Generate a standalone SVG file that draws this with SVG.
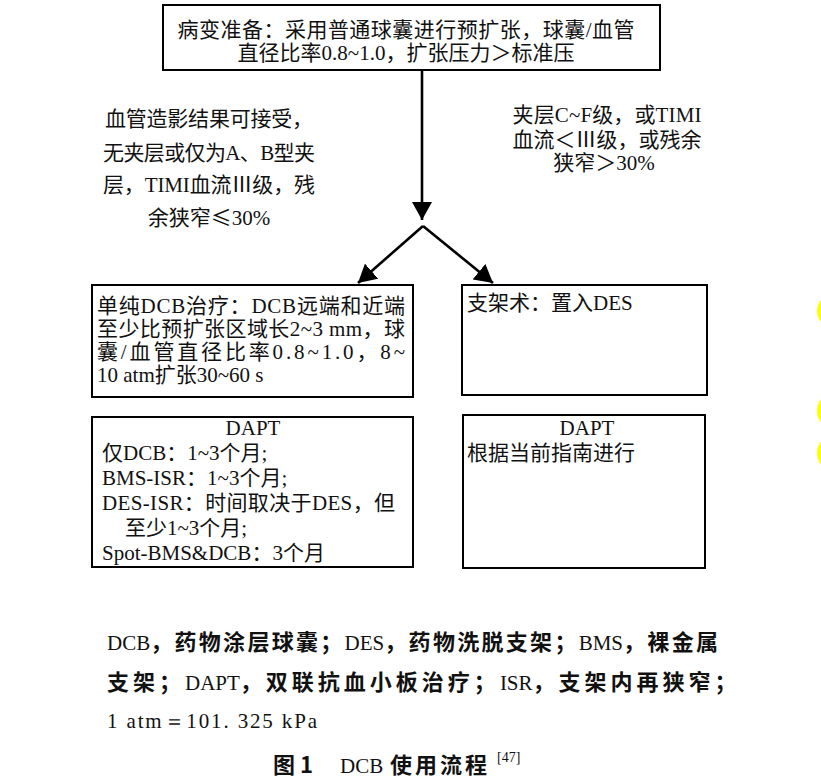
<svg xmlns="http://www.w3.org/2000/svg" width="821" height="781" viewBox="0 0 821 781">
<style>
.box{fill:#fff;stroke:#000;stroke-width:2}
.t{font-family:'Liberation Serif','Noto Sans CJK SC',serif;font-size:21px;fill:#111}
.fn{font-family:'Liberation Serif','Noto Sans CJK SC',serif;font-size:21px;fill:#111}
.h{font-family:'Noto Sans CJK SC',sans-serif;font-weight:bold;font-size:22px}
.s{font-family:'Liberation Serif',serif;font-weight:normal}
.cj{font-family:'Noto Sans CJK SC',sans-serif}
.c{fill:none;stroke:#000;stroke-width:2.6}
.dot{fill:#ffff00}
</style>
<defs>
<marker id="ah" markerUnits="userSpaceOnUse" markerWidth="20" markerHeight="20" refX="18" refY="10" orient="auto" viewBox="0 0 20 20">
<path d="M0,0 L18,10 L0,20 z" fill="#000"/>
</marker>
</defs>
<rect width="821" height="781" fill="#fff"/>
<g id="connectors">
<line class="c" x1="422" y1="70" x2="422" y2="220" stroke-width="3" marker-end="url(#ah)"/>
<line class="c" x1="423" y1="226" x2="358" y2="283" marker-end="url(#ah)"/>
<line class="c" x1="423" y1="226" x2="493" y2="283" marker-end="url(#ah)"/>
</g>
<g id="node-prep">
<rect class="box" x="163" y="5" width="497" height="65"/>
<text class="t" x="406" y="37" text-anchor="middle" textLength="457" lengthAdjust="spacing">病变准备：采用普通球囊进行预扩张，球囊/血管</text>
<text class="t" x="406" y="60" text-anchor="middle">直径比率0.8~1.0，扩张压力＞标准压</text>
</g>
<g id="label-left">
<text class="t" x="209" y="126" text-anchor="middle" textLength="208" lengthAdjust="spacing">血管造影结果可接受，</text>
<text class="t" x="209" y="160" text-anchor="middle" textLength="212" lengthAdjust="spacing">无夹层或仅为A、B型夹</text>
<text class="t" x="209" y="192" text-anchor="middle" textLength="212" lengthAdjust="spacing">层，TIMI血流Ⅲ级，残</text>
<text class="t" x="209" y="225" text-anchor="middle">余狭窄<tspan class="cj">≤</tspan>30%</text>
</g>
<g id="label-right">
<text class="t" x="607" y="122" text-anchor="middle" textLength="189" lengthAdjust="spacing">夹层C~F级，或TIMI</text>
<text class="t" x="607" y="147" text-anchor="middle" textLength="189" lengthAdjust="spacing">血流＜Ⅲ级，或残余</text>
<text class="t" x="604" y="170" text-anchor="middle">狭窄＞30%</text>
</g>
<g id="node-dcb">
<rect class="box" x="92" y="285" width="321" height="112"/>
<text class="t" x="97" y="313" textLength="308" lengthAdjust="spacing">单纯DCB治疗：DCB远端和近端</text>
<text class="t" x="97" y="336" textLength="308" lengthAdjust="spacing">至少比预扩张区域长2~3 mm，球</text>
<text class="t" x="97" y="359" textLength="308" lengthAdjust="spacing">囊/血管直径比率0.8~1.0，8~</text>
<text class="t" x="97" y="382">10 atm扩张30~60 s</text>
</g>
<g id="node-stent">
<rect class="box" x="462" y="285" width="245" height="110"/>
<text class="t" x="467" y="310">支架术：置入DES</text>
</g>
<g id="node-dapt-left">
<rect class="box" x="92" y="417" width="321" height="150"/>
<text class="t" x="253" y="435" text-anchor="middle">DAPT</text>
<text class="t" x="102" y="460">仅DCB：1~3个月;</text>
<text class="t" x="102" y="485">BMS-ISR：1~3个月;</text>
<text class="t" x="102" y="510" textLength="293" lengthAdjust="spacing">DES-ISR：时间取决于DES，但</text>
<text class="t" x="125" y="535">至少1~3个月;</text>
<text class="t" x="102" y="560">Spot-BMS&amp;DCB：3个月</text>
</g>
<g id="node-dapt-right">
<rect class="box" x="463" y="415" width="242" height="153"/>
<text class="t" x="587" y="435" text-anchor="middle">DAPT</text>
<text class="t" x="467" y="460">根据当前指南进行</text>
</g>
<g id="marks">
<ellipse class="dot" cx="832" cy="311" rx="15" ry="16"/>
<ellipse class="dot" cx="832" cy="411" rx="15" ry="17"/>
<ellipse class="dot" cx="832" cy="453" rx="15" ry="17"/>
</g>
<g id="footnote">
<text class="fn" x="107" y="650"><tspan class="s">DCB</tspan><tspan class="h" letter-spacing="2.3">，药物涂层球囊；</tspan><tspan class="s">DES</tspan><tspan class="h" letter-spacing="2.3">，药物洗脱支架；</tspan><tspan class="s">BMS</tspan><tspan class="h" letter-spacing="2.3">，裸金属</tspan></text>
<text class="fn" x="107" y="690"><tspan class="h" letter-spacing="4">支架；</tspan><tspan class="s">DAPT</tspan><tspan class="h" letter-spacing="4">，双联抗血小板治疗；</tspan><tspan class="s">ISR</tspan><tspan class="h" letter-spacing="4">，支架内再狭窄；</tspan></text>
<text class="fn s" x="107" y="728" textLength="210" lengthAdjust="spacing">1 atm＝101. 325 kPa</text>
</g>
<g id="caption">
<text class="fn" x="273" y="773"><tspan class="h">图 1</tspan></text>
<text class="fn s" x="340" y="773">DCB</text>
<text class="fn h" x="390" y="773" textLength="97" lengthAdjust="spacing" style="font-weight:600">使用流程</text>
<text class="fn s" x="497" y="762" style="font-size:14px">[47]</text>
</g>
</svg>
